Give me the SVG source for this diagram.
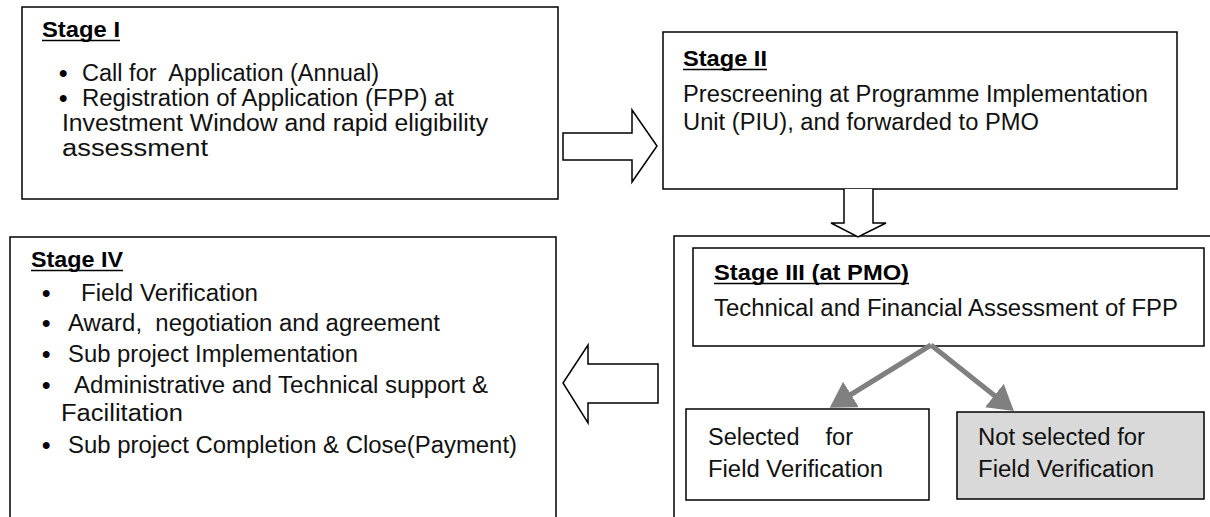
<svg xmlns="http://www.w3.org/2000/svg" width="1210" height="517" viewBox="0 0 1210 517">
<style>
.box{fill:#fff;stroke:#000;stroke-width:1.5}
.grey{fill:#d9d9d9;stroke:#000;stroke-width:1.5}
.t{font-family:"Liberation Sans",Arial,sans-serif;font-size:23px;fill:#111;white-space:pre}
.b{font-family:"Liberation Sans",Arial,sans-serif;font-size:24px;font-weight:bold;fill:#000}
.h{font-family:"Liberation Sans",Arial,sans-serif;font-size:22px;font-weight:bold;fill:#000;white-space:pre}
.ul{stroke:#000;stroke-width:1.5}
.fat{fill:#fff;stroke:#000;stroke-width:1.5;stroke-linejoin:miter}
.g{stroke:#808080;stroke-width:5;fill:none}
</style>
<defs>
<marker id="ga" markerWidth="6" markerHeight="6" refX="4" refY="3" orient="auto" markerUnits="strokeWidth">
<path d="M0,0 L5,3 L0,6 Z" fill="#808080"/>
</marker>
</defs>
<rect width="1210" height="517" fill="#fff"/>

<g id="stage1">
<rect class="box" x="22" y="7" width="536" height="192"/>
<text class="h" x="42" y="37" textLength="78" lengthAdjust="spacingAndGlyphs">Stage I</text>
<line class="ul" x1="42" y1="40.5" x2="120" y2="40.5"/>
<text class="b" x="59" y="81">•</text>
<text class="t" x="82" y="81" textLength="297" lengthAdjust="spacingAndGlyphs">Call for  Application (Annual)</text>
<text class="b" x="59" y="106">•</text>
<text class="t" x="82" y="106" textLength="372" lengthAdjust="spacingAndGlyphs">Registration of Application (FPP) at</text>
<text class="t" x="62" y="131" textLength="426" lengthAdjust="spacingAndGlyphs">Investment Window and rapid eligibility</text>
<text class="t" x="62" y="156" textLength="146" lengthAdjust="spacingAndGlyphs">assessment</text>
</g>

<g id="stage2">
<rect class="box" x="663" y="32" width="514" height="157"/>
<text class="h" x="683" y="66" textLength="84" lengthAdjust="spacingAndGlyphs">Stage II</text>
<line class="ul" x1="683" y1="69.5" x2="767" y2="69.5"/>
<text class="t" x="683" y="102" textLength="465" lengthAdjust="spacingAndGlyphs">Prescreening at Programme Implementation</text>
<text class="t" x="683" y="130" textLength="356" lengthAdjust="spacingAndGlyphs">Unit (PIU), and forwarded to PMO</text>
</g>

<g id="stage3">
<rect class="box" x="674" y="236" width="560" height="300"/>
<rect class="box" x="693" y="248" width="511" height="98"/>
<text class="h" x="714" y="280" textLength="195" lengthAdjust="spacingAndGlyphs">Stage III (at PMO)</text>
<line class="ul" x1="714" y1="283.5" x2="909" y2="283.5"/>
<text class="t" x="714" y="316" textLength="464" lengthAdjust="spacingAndGlyphs">Technical and Financial Assessment of FPP</text>
</g>

<g id="selected">
<rect class="box" x="686" y="409" width="243" height="91"/>
<text class="t" x="708" y="445" textLength="145" lengthAdjust="spacingAndGlyphs">Selected    for</text>
<text class="t" x="708" y="477" textLength="175" lengthAdjust="spacingAndGlyphs">Field Verification</text>
</g>

<g id="notselected">
<rect class="grey" x="957" y="412" width="247" height="87"/>
<text class="t" x="978" y="445" textLength="167" lengthAdjust="spacingAndGlyphs">Not selected for</text>
<text class="t" x="978" y="477" textLength="176" lengthAdjust="spacingAndGlyphs">Field Verification</text>
</g>

<g id="stage4">
<rect class="box" x="10" y="237" width="546" height="300"/>
<text class="h" x="31" y="267" textLength="92" lengthAdjust="spacingAndGlyphs">Stage IV</text>
<line class="ul" x1="31" y1="270.5" x2="123" y2="270.5"/>
<text class="b" x="42" y="301">•</text>
<text class="t" x="81" y="301" textLength="177" lengthAdjust="spacingAndGlyphs">Field Verification</text>
<text class="b" x="42" y="331">•</text>
<text class="t" x="68" y="331" textLength="372" lengthAdjust="spacingAndGlyphs">Award,  negotiation and agreement</text>
<text class="b" x="42" y="362">•</text>
<text class="t" x="68" y="362" textLength="290" lengthAdjust="spacingAndGlyphs">Sub project Implementation</text>
<text class="b" x="42" y="393">•</text>
<text class="t" x="74" y="393" textLength="414" lengthAdjust="spacingAndGlyphs">Administrative and Technical support &amp;</text>
<text class="t" x="61" y="421" textLength="122" lengthAdjust="spacingAndGlyphs">Facilitation</text>
<text class="b" x="42" y="453">•</text>
<text class="t" x="68" y="453" textLength="449" lengthAdjust="spacingAndGlyphs">Sub project Completion &amp; Close(Payment)</text>
</g>

<g id="connectors">
<path class="fat" d="M563,133 L632,133 L632,110 L657,146 L632,182 L632,160 L563,160 Z"/>
<path class="fat" d="M844,189 L844,223 L831,223 L858,237 L886,223 L873,223 L873,189"/>
<path class="fat" d="M658,364 L588,364 L588,345 L563,383 L588,423 L588,403 L658,403 Z"/>
<line class="g" x1="931" y1="345" x2="834" y2="405" marker-end="url(#ga)"/>
<line class="g" x1="931" y1="345" x2="1010" y2="408" marker-end="url(#ga)"/>
</g>
</svg>
